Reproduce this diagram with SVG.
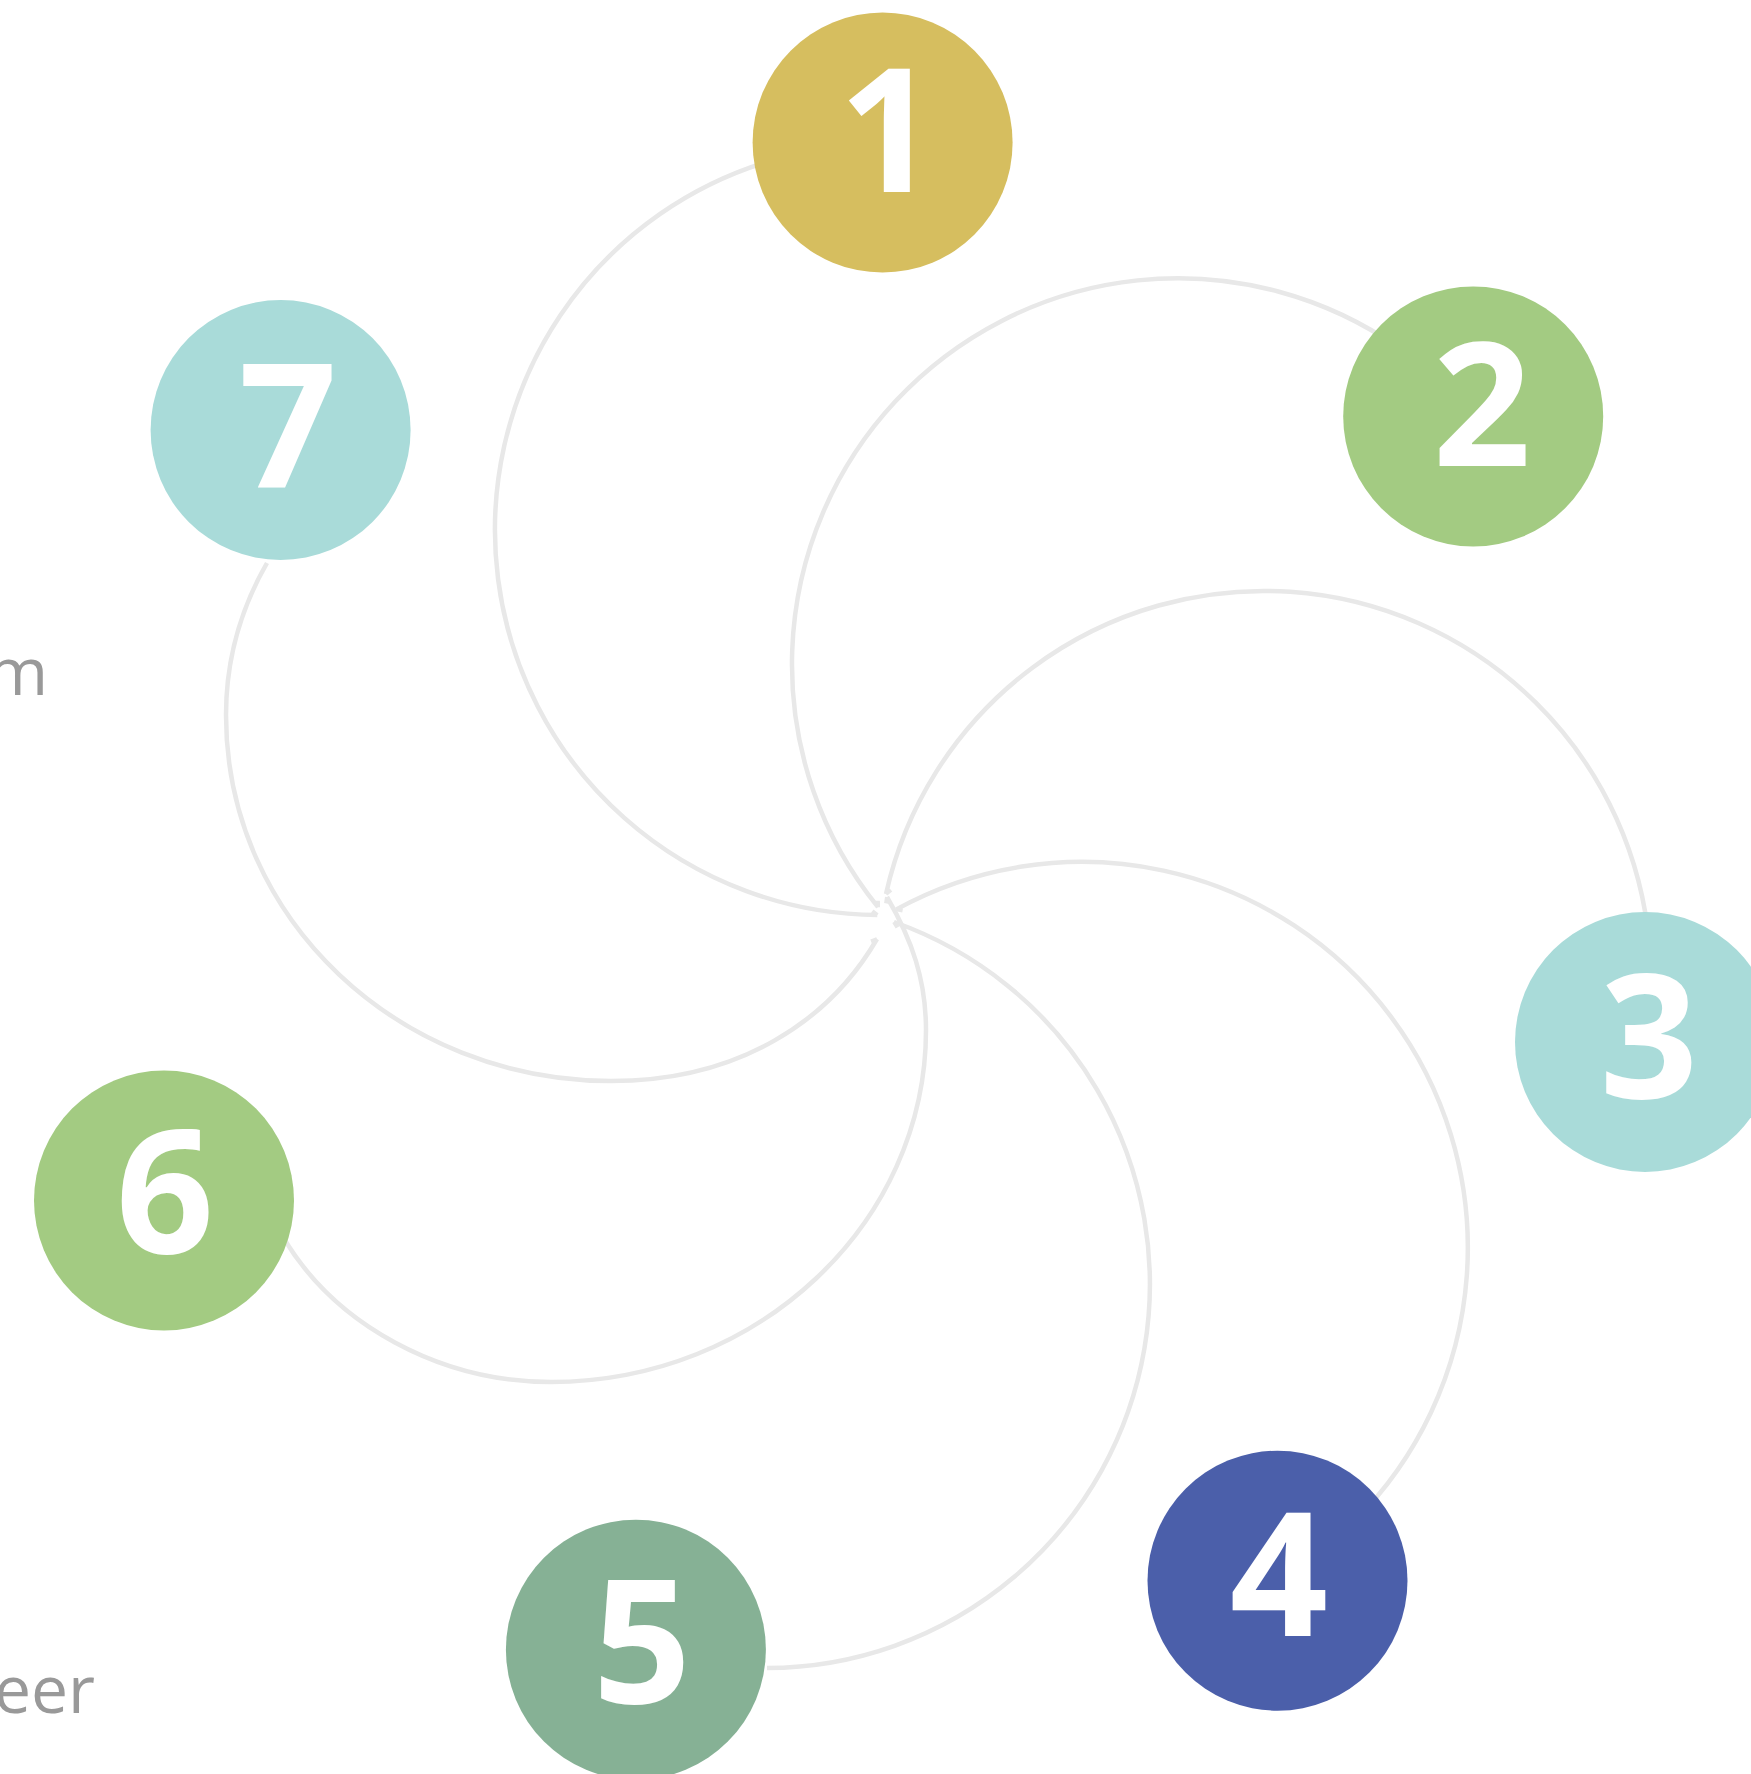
<svg xmlns="http://www.w3.org/2000/svg" width="1751" height="1774" viewBox="0 0 1751 1774">
<style>
.arc{fill:none;stroke:#E8E8E8;stroke-width:4.5;stroke-linecap:butt;marker-end:url(#tick)}
.num{font-family:"Open Sans","Liberation Sans",sans-serif;font-weight:700;font-size:172px;fill:#FFFFFF;text-anchor:middle}
.lbl{font-family:"Open Sans","Liberation Sans",sans-serif;font-size:66px;fill:#999999;text-anchor:end}
</style>
<defs>
<marker id="tick" markerUnits="userSpaceOnUse" markerWidth="20" markerHeight="20" refX="0" refY="0" viewBox="-10 -10 20 20" orient="auto-start-reverse" overflow="visible">
<path d="M -5 -4 L 0 0" fill="none" stroke="#E8E8E8" stroke-width="4"/>
</marker>
</defs>
<rect width="1751" height="1774" fill="#FFFFFF"/>
<g id="labels">
<text class="lbl" x="48" y="695">m</text>
<text class="lbl" x="95" y="1713">eer</text>
</g>
<g id="connectors">
<path class="arc" d="M 780.4 158.1 A 385 385 0 0 0 877.3 915"/>
<path class="arc" d="M 1399.4 348.1 A 386 386 0 0 0 878 907.2"/>
<path class="arc" d="M 1649.5 946.3 A 387 387 0 0 0 886 894"/>
<path class="arc" d="M 1354.6 1521 A 386 386 0 0 0 896.3 909.4"/>
<path class="arc" d="M 767 1668 A 384 384 0 0 0 894 922"/>
<path class="arc" d="M 283 1237 C 335 1325 440 1382 551 1382 C 757 1382 926 1224 926 1030 C 926 980 912 940 887 897"/>
<path class="arc" d="M 267 563 C 240 610 226 660 226 715 C 226 920 400 1081 611 1081 C 740 1081 830 1020 877 939"/>
</g>
<g id="node1"><circle cx="882.6" cy="142.6" r="130" fill="#D6BE5F"/><text class="num" x="888" y="192">1</text></g>
<g id="node2"><circle cx="1473.2" cy="416.4" r="130" fill="#A3CB82"/><text class="num" x="1482" y="466">2</text></g>
<g id="node3"><circle cx="1645" cy="1042" r="130" fill="#A9DBD9"/><text class="num" x="1649" y="1098">3</text></g>
<g id="node4"><circle cx="1277.5" cy="1580.7" r="130" fill="#4B5FAA"/><text class="num" x="1279" y="1636">4</text></g>
<g id="node5"><circle cx="635.9" cy="1649.7" r="130" fill="#86B195"/><text class="num" x="642" y="1703">5</text></g>
<g id="node6"><circle cx="164" cy="1200.5" r="130" fill="#A3CB82"/><text class="num" x="165" y="1253">6</text></g>
<g id="node7"><circle cx="280.6" cy="430" r="130" fill="#A9DBD9"/><text class="num" x="288" y="487">7</text></g>
</svg>
